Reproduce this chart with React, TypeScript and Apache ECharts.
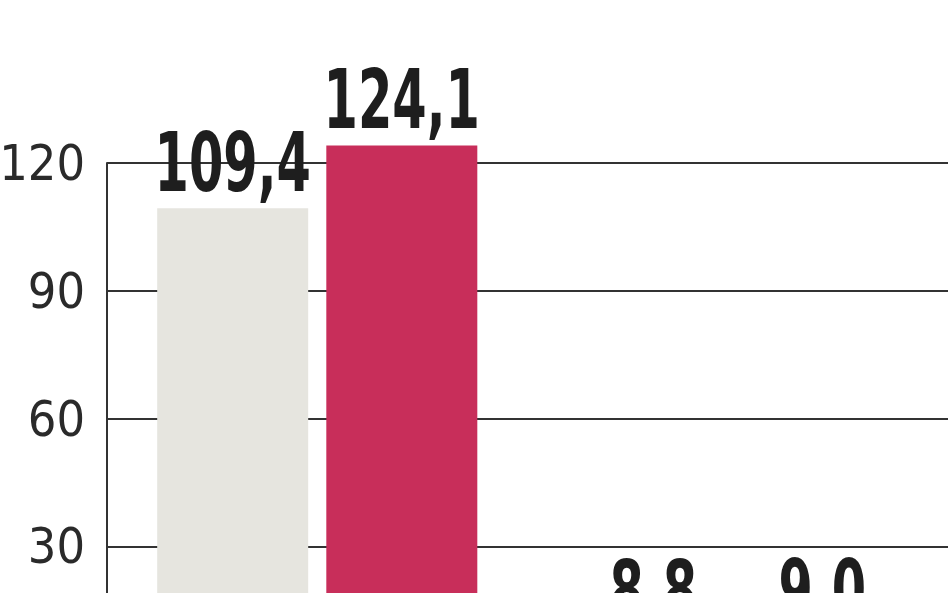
import {useEffect, useRef} from 'react';
import * as echarts from 'echarts';

const categories = ['A', 'B'];
const seriesPrev = [109.4, 8.8];
const seriesCurr = [124.1, 9.0];
const yTicks = [0, 30, 60, 90, 120];

const BAR_W = 151;
const HALF_STEP = (BAR_W + 18) / 2;
const FONT = '"DejaVu Sans Condensed", "DejaVu Sans", sans-serif';

const fmt = (v: number) => v.toFixed(1).replace('.', ',');

// labels drawn narrow, the original uses a condensed bold face
const labelSeries = (values: number[], side: number) => ({
    type: 'custom',
    clip: false,
    silent: true,
    data: values.map((v, i) => [i, v]),
    renderItem: (params: any, api: any) => {
        const pt = api.coord([api.value(0), api.value(1)]);
        return {
            type: 'text',
            x: pt[0] + side * HALF_STEP,
            y: pt[1] - 46,
            scaleX: 0.67,
            style: {
                text: fmt(api.value(1)),
                fontFamily: FONT,
                fontWeight: 'bold',
                fontSize: 82,
                fill: '#1e1e1e',
                align: 'center',
                verticalAlign: 'middle',
            },
        };
    },
});

const App = () => {
    const chartRef = useRef<HTMLDivElement>(null);

    useEffect(() => {
        if (!chartRef.current) return;
        const chart = echarts.init(chartRef.current, null, {renderer: 'svg'});
        chart.setOption({
            animation: false,
            grid: {left: 107, right: 0, top: 163, bottom: 46, outerBoundsMode: 'none', containLabel: false},
            xAxis: {
                type: 'category',
                data: categories,
                axisLine: {show: false},
                axisTick: {show: false},
                axisLabel: {show: false},
            },
            yAxis: {
                type: 'value',
                min: yTicks[0],
                max: yTicks[yTicks.length - 1],
                interval: 30,
                axisLine: {show: true, lineStyle: {color: '#333', width: 2}},
                axisTick: {show: false},
                axisLabel: {
                    margin: 22,
                    fontFamily: FONT,
                    fontSize: 50,
                    color: '#2a2a2a',
                    formatter: (v: number) => (v === 0 ? '' : String(v)),
                },
                splitLine: {show: true, lineStyle: {color: '#333', width: 2}},
            },
            series: [
                {
                    type: 'bar',
                    data: seriesPrev,
                    barWidth: BAR_W,
                    barGap: '12%',
                    clip: false,
                    itemStyle: {color: '#e6e5df'},
                },
                {
                    type: 'bar',
                    data: seriesCurr,
                    barWidth: BAR_W,
                    barGap: '12%',
                    clip: false,
                    itemStyle: {color: '#c82e5a'},
                },
                labelSeries(seriesPrev, -1),
                labelSeries(seriesCurr, 1),
            ],
        });
        return () => {
            chart.dispose();
        };
    }, []);

    return (
        <div
            ref={chartRef}
            style={{position: 'fixed', top: 0, left: 0, width: 948, height: 720, background: '#fff'}}
        />
    );
};

export default App;
